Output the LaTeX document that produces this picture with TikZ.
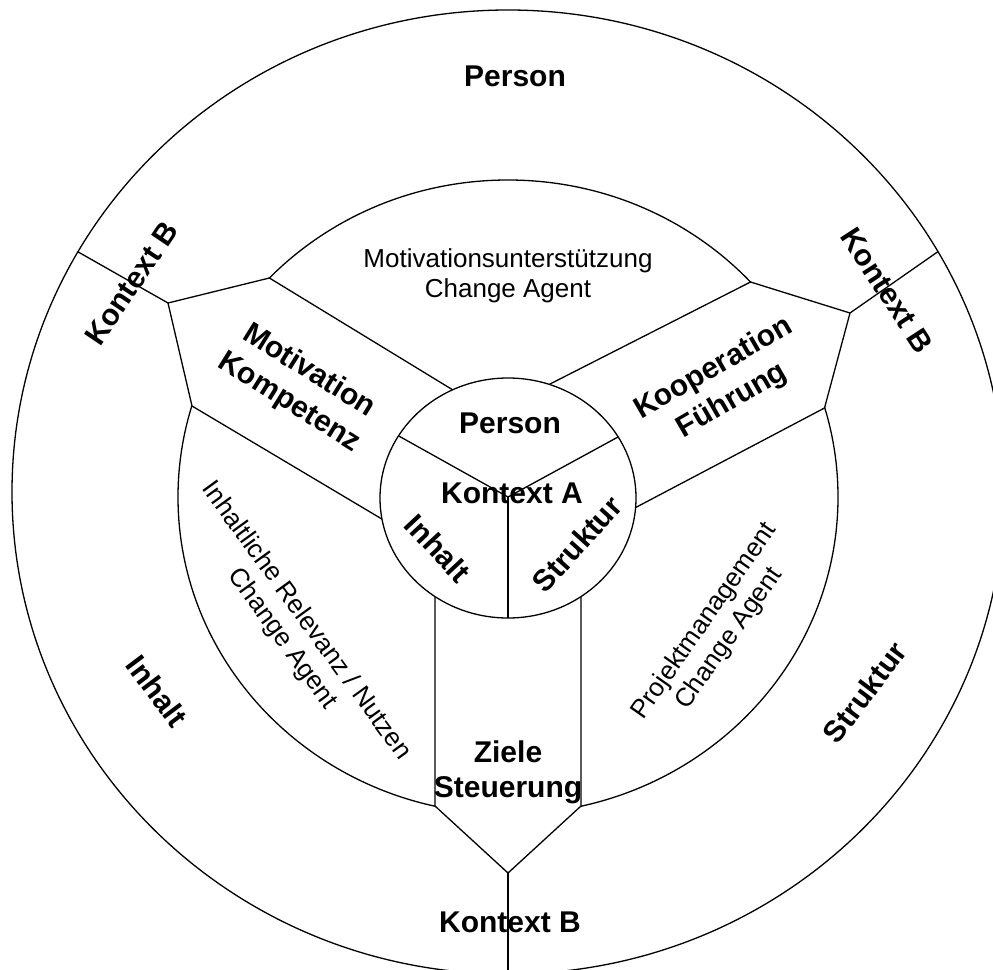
\documentclass[tikz,border=0pt]{standalone}
\usepackage{fontspec}
\setmainfont{Liberation Sans}
\begin{document}
\begin{tikzpicture}[x=1pt,y=-1pt,
  line width=1.3pt,
  band/.style={draw=black, fill=white, line join=miter},
  hub/.style={draw=black, fill=white},
  big/.style={font=\fontsize{30}{37}\selectfont\bfseries, align=center, inner sep=0pt},
  small/.style={font=\fontsize{26}{30}\selectfont, align=center, inner sep=0pt}]
\clip (0,0) rectangle (993,969);
\fill[white] (0,0) rectangle (993,969);

% centres of the three rings
\coordinate (Co) at (508,492);
\coordinate (Cm) at (508,497);
\coordinate (Ci) at (508,498);
\coordinate (J)  at (508,497);

% outer and middle rings
\draw (Co) ellipse [x radius=496pt, y radius=482pt];
\draw (Cm) ellipse [x radius=330pt, y radius=317pt];

% the three bands with their pointed outer ends
\coordinate (Vb) at (508,873);
\coordinate (Vl) at (168,303);
\coordinate (Vr) at (850,313);
\draw[band] (435,560) -- (435,806) -- (Vb) -- (581,806) -- (581,560) -- cycle;
\draw[band] (470,400.4) -- (269.4,278) -- (Vl) -- (192,406) -- (420,541.7) -- cycle;
\draw[band] (530,394.2) -- (750.5,282) -- (Vr) -- (824.5,408) -- (600,526.3) -- cycle;

% spokes from the band tips to the outer ring
\begin{scope}
  \clip (Co) ellipse [x radius=496pt, y radius=482pt];
  \draw (Vl) -- ++(-176,-100);
  \draw (Vr) -- ++(172,-120);
  \draw (Vb) -- (508,1100);
\end{scope}

% inner hub and its three sectors
\draw[hub] (Ci) ellipse [x radius=128pt, y radius=120pt];
\begin{scope}
  \clip (Ci) ellipse [x radius=128pt, y radius=120pt];
  \draw (J) -- ++(-222,-124);
  \draw (J) -- ++(220,-120);
  \draw (J) -- (508,700);
\end{scope}

% outer ring labels
\node[big] (tP) at (515,76) {Person};
\node[big, rotate=56] (tKl) at (131.5,283.5) {Kontext B};
\node[big, rotate=-57] (tKr) at (887,290.5) {Kontext B};
\node[big, rotate=-53] (tI) at (157,691) {Inhalt};
\node[big, rotate=53] (tS) at (864.5,692) {Struktur};
\node[big] (tKb) at (510,922.5) {Kontext B};

% middle ring labels
\node[small] (mM) at (508,276) {Motivationsunterstützung\\Change Agent};
\node[small, rotate=-54] (mI) at (294,630) {Inhaltliche Relevanz / Nutzen\\Change Agent};
\node[small, rotate=55] (mP) at (717,630) {Projektmanagement\\Change Agent};

% band labels
\node[big, rotate=-32] (bM) at (299,387) {Motivation\\Kompetenz};
\node[big, rotate=30] (bK) at (723,385) {Kooperation\\Führung};
\node[big, font=\fontsize{30}{35}\selectfont\bfseries] (bZ) at (508,772) {Ziele\\Steuerung};

% hub labels
\node[big] (hP) at (510,423) {Person};
\node[big] (hK) at (512,493) {Kontext A};
\node[big, rotate=-47] (hI) at (438,548) {Inhalt};
\node[big, rotate=48] (hS) at (577,544) {Struktur};
\end{tikzpicture}
\end{document}
